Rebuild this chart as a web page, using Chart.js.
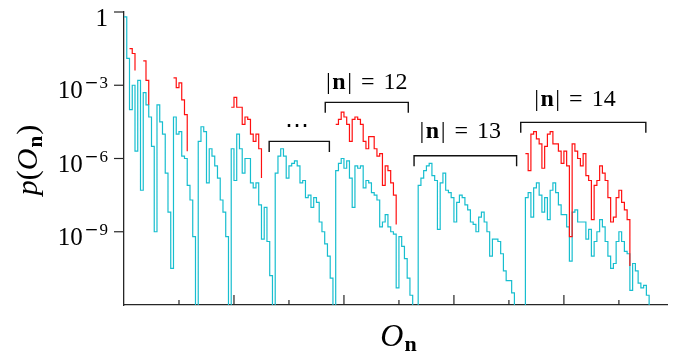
<!DOCTYPE html>
<html>
<head>
<meta charset="utf-8">
<script src="https://cdn.jsdelivr.net/npm/chart.js@4.4.1/dist/chart.umd.min.js"></script>
<style>
  html, body { margin: 0; padding: 0; background: #fff; }
  #wrap { width: 680px; height: 352px; }
</style>
</head>
<body>
<div id="wrap"><canvas id="chart" width="680" height="352"></canvas></div>
<script>
'use strict';

// log10 p(O_n), one value per O_n bin (20 bins per x tick); Z = bin with zero probability
const Z = -Infinity;
const cyanLog = [
  -0.2, -1.9, -4.0, -3.0, -5.7, -2.8, -7.3, -3.3, -3.8, -4.3,
  -5.5, -9.0, -3.8, -4.5, -5.0, -6.6, -8.2, -10.5, -4.3, -5.0,
  -4.9, -5.9, -6.0, -7.1, -7.7, -9.2, Z, -5.3, -4.7, -4.9,
  -7.0, -5.6, -5.9, -6.3, -6.8, -7.7, -8.2, -9.2, Z, -5.6,
  -6.9, -5.0, -5.6, -6.6, -6.0, -6.0, -7.0, -7.2, -7.0, -7.9,
  -9.3, -8.0, -9.4, -10.8, Z, -6.6, -5.9, -5.6, -5.9, -6.8,
  -6.3, -6.2, -6.1, -6.3, -7.0, -6.9, -7.6, -7.5, -8.0, -7.6,
  -7.8, -8.6, -9.0, -9.5, -10.0, -10.9, Z, -6.5, -6.2, -6.0,
  -6.4, -6.1, -6.8, -8.0, -6.3, -6.4, -6.3, -7.2, -6.9, -7.0,
  -7.4, -7.5, -7.7, -8.8, -8.6, -8.3, -8.8, -9.0, -9.1, -11.3,
  -9.2, -9.6, -10.1, -10.9, -11.6, Z, Z, -7.1, -6.8, -6.5,
  -6.3, -6.2, -6.7, -6.9, -8.9, -7.0, -6.6, -7.3, -7.4, -7.6,
  -8.6, -7.8, -7.5, -7.6, -7.9, -8.1, -8.6, -8.7, -9.0, -8.4,
  -8.2, -8.6, -9.0, -10.0, -9.3, -9.3, -9.4, -9.9, -10.6, -11.0,
  -11.0, -11.5, Z, Z, Z, Z, -7.6, -7.4, -8.4, -7.2,
  -7.0, -7.5, -8.2, -7.6, -8.5, -7.3, -7.0, -7.4, -7.9, -8.3,
  -8.3, -8.8, -10.2, -8.2, -8.1, -8.6, -8.6, -8.6, -9.3, -8.9,
  -10.0, -9.4, -9.0, -8.5, -8.8, -9.4, -10.0, -10.5, -10.3, -9.4,
  -9.0, -9.4, -9.8, -9.9, -11.4, -10.3, -10.6, -11.1, -11.3, -11.2,
  -11.6, Z
];

// red series only exists on some |n| blocks: first bin of each run, then its values
const redStarts = [2, 7, 18, 39, 77, 146];
const redRuns = [
  [-1.5, -1.7, -2.4],
  [-2.0, -2.8, -3.8],
  [-2.7, -3.1, -2.9, -3.6, -4.2, -5.7],
  [-3.9, -3.5, -3.9, -3.9, -4.6, -4.3, -4.4, -5.0, -5.3, -5.0, -5.6, -6.8],
  [-4.6, -4.4, -4.1, -4.3, -4.6, -5.3, -4.4, -4.3, -4.4, -4.6, -5.3, -5.6,
   -5.1, -5.1, -5.6, -5.9, -5.8, -7.1, -6.3, -6.5, -7.0, -7.5, -8.7],
  [-5.8, -6.5, -5.0, -4.9, -5.2, -5.4, -6.4, -5.5, -5.0, -4.9, -5.4, -5.4,
   -5.7, -6.2, -5.7, -6.3, -9.2, -5.4, -5.7, -6.0, -6.3, -5.8, -6.7, -6.9,
   -8.5, -7.1, -6.9, -6.3, -6.6, -6.9, -7.6, -8.6, -8.4, -7.6, -7.3, -7.8,
   -8.1, -8.5, -10.4]
];

const xMax = 197.5;
const xTicks = [20, 40, 60, 80, 100, 120, 140, 160, 180];
const xMajor = [40, 80, 120, 160];
const yTicks = [1, 1e-3, 1e-6, 1e-9];
const yMin = 1e-12, yMax = 1;

// brackets over the |n| blocks, in bins and log10 p
const bracketFrom = [52.8, 73.2, 105.5, 144.3];
const bracketTo   = [74.7, 103.4, 142.8, 189.8];
const bracketAt   = [-5.30, -3.70, -5.89, -4.52];
const labelN      = [null, '12', '13', '14'];
const labelX      = [62.9, 88.3, 122.3, 164.0];
const labelAt     = [-4.68, -3.16, -5.14, -3.84];

const RED = '#ff1010';
const CYAN = '#17becf';
const INK = '#262626';
const SERIF = '"Liberation Serif", "Times New Roman", serif';

// zero probability falls below the axis and is clipped
const toP = (e) => (e === Z ? yMin / 10 : Math.pow(10, e));

const cyanData = cyanLog.map((e, i) => ({x: i, y: toP(e)}));
const redData = cyanLog.map((_, i) => ({x: i, y: null}));
redStarts.forEach((s, k) =>
{
    redRuns[k].forEach((e, j) => { redData[s + j].y = toP(e); });
});

function drawRun (ctx, parts, cx, by)
{
    let w = 0;
    for (const p of parts)
    {
        ctx.font = p.font;
        p.w = ctx.measureText(p.t).width;
        w += p.w + (p.gap || 0);
    }
    let px = cx - w / 2;
    ctx.textAlign = 'left';
    ctx.textBaseline = 'alphabetic';
    for (const p of parts)
    {
        ctx.font = p.font;
        ctx.fillText(p.t, px, by + (p.dy || 0));
        px += p.w + (p.gap || 0);
    }
}

const decor = {
    id: 'decor',
    afterDraw (chart)
    {
        const {ctx, chartArea: a} = chart;
        const xs = chart.scales.x, ys = chart.scales.y;
        ctx.save();
        ctx.strokeStyle = INK;
        ctx.fillStyle = '#000';
        ctx.lineWidth = 1.2;

        // y ticks (outward) and labels
        for (const t of ys.ticks)
        {
            const py = ys.getPixelForValue(t.value);
            ctx.beginPath();
            ctx.moveTo(a.left - 10, py);
            ctx.lineTo(a.left, py);
            ctx.stroke();
            const e = Math.round(Math.log10(t.value));
            ctx.textAlign = 'right';
            ctx.textBaseline = 'alphabetic';
            const rx = a.left - 16;
            if (e === 0)
            {
                ctx.font = '25px ' + SERIF;
                ctx.fillText('1', rx, py + 14);
                continue;
            }
            const digit = String(-e);
            ctx.font = '17px ' + SERIF;
            ctx.fillText(digit, rx, py + 3);
            const dw = ctx.measureText(digit).width;
            ctx.font = '17px "DejaVu Serif"';
            ctx.fillText('\u2212', rx - dw - 1, py + 3);
            const mw = ctx.measureText('\u2212').width;
            ctx.font = '25px ' + SERIF;
            ctx.fillText('10', rx - dw - mw - 2.5, py + 13);
        }

        // x ticks point inward
        for (const t of xs.ticks)
        {
            const px = xs.getPixelForValue(t.value);
            const len = xMajor.includes(t.value) ? 10 : 5;
            ctx.beginPath();
            ctx.moveTo(px, a.bottom);
            ctx.lineTo(px, a.bottom - len);
            ctx.stroke();
        }

        // brackets and their labels
        ctx.strokeStyle = '#111';
        ctx.lineWidth = 1.4;
        for (let k = 0; k < bracketFrom.length; k++)
        {
            const x0 = xs.getPixelForValue(bracketFrom[k]);
            const x1 = xs.getPixelForValue(bracketTo[k]);
            const py = ys.getPixelForValue(Math.pow(10, bracketAt[k]));
            ctx.beginPath();
            ctx.moveTo(x0, py + 10.5);
            ctx.lineTo(x0, py);
            ctx.lineTo(x1, py);
            ctx.lineTo(x1, py + 10.5);
            ctx.stroke();

            const lx = xs.getPixelForValue(labelX[k]);
            const ly = ys.getPixelForValue(Math.pow(10, labelAt[k]));
            if (labelN[k] === null)
            {
                ctx.font = '24px "DejaVu Sans"';
                ctx.textAlign = 'center';
                ctx.textBaseline = 'middle';
                ctx.fillText('\u22EF', lx, ly);
                continue;
            }
            const f = '24px ' + SERIF;
            drawRun(ctx, [
                {t: '|', font: f, gap: 1.5},
                {t: 'n', font: 'bold 24px ' + SERIF, gap: 1.5},
                {t: '|', font: f, gap: 9},
                {t: '=', font: f, gap: 9},
                {t: labelN[k], font: f}
            ], lx, ly);
        }

        // axis titles
        drawRun(ctx, [
            {t: 'O', font: 'italic 32px ' + SERIF, gap: 1},
            {t: 'n', font: 'bold 22px ' + SERIF, dy: 5}
        ], (a.left + a.right) / 2 + 3, 346);

        ctx.save();
        ctx.translate(37, 160);
        ctx.rotate(-Math.PI / 2);
        drawRun(ctx, [
            {t: 'p', font: 'italic 30px ' + SERIF},
            {t: '(', font: '30px ' + SERIF},
            {t: 'O', font: 'italic 30px ' + SERIF, gap: 1},
            {t: 'n', font: 'bold 21px ' + SERIF, dy: 5, gap: 1},
            {t: ')', font: '30px ' + SERIF}
        ], 0, 0);
        ctx.restore();

        ctx.restore();
    }
};

new Chart(document.getElementById('chart').getContext('2d'), {
    type: 'line',
    data: {
        datasets: [
            {
                label: 'even |n|',
                data: redData,
                borderColor: RED,
                borderWidth: 1.2,
                stepped: true,
                pointRadius: 0,
                spanGaps: false,
                fill: false
            },
            {
                label: 'all',
                data: cyanData,
                borderColor: CYAN,
                borderWidth: 1.2,
                stepped: true,
                pointRadius: 0,
                fill: false
            }
        ]
    },
    options: {
        responsive: false,
        animation: false,
        devicePixelRatio: 1,
        layout: {padding: {left: 0, right: 13, top: 12, bottom: 0}},
        plugins: {legend: {display: false}, tooltip: {enabled: false}},
        scales: {
            x: {
                type: 'linear',
                min: 0,
                max: xMax,
                afterBuildTicks: (s) => { s.ticks = xTicks.map((v) => ({value: v})); },
                afterFit: (s) => { s.height = 47; },
                ticks: {display: false},
                grid: {display: false},
                border: {display: true, color: INK, width: 1.3}
            },
            y: {
                type: 'logarithmic',
                min: yMin,
                max: yMax,
                afterBuildTicks: (s) => { s.ticks = yTicks.map((v) => ({value: v})); },
                afterFit: (s) => { s.width = 124; },
                ticks: {display: false},
                grid: {display: false},
                border: {display: true, color: INK, width: 1.3}
            }
        }
    },
    plugins: [decor]
});
</script>
</body>
</html>
